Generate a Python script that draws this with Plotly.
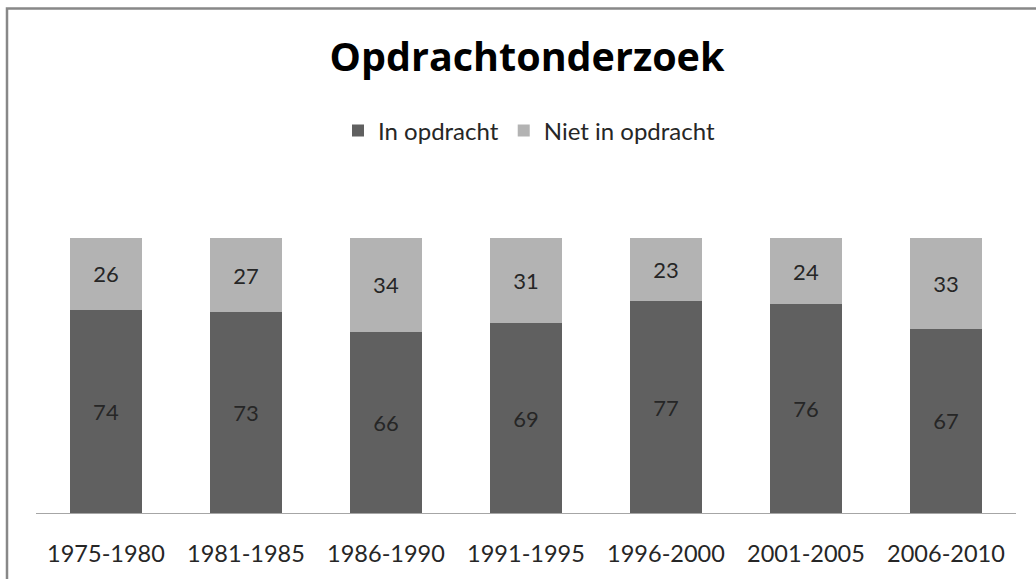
import plotly.graph_objects as go

categories = ["1975-1980", "1981-1985", "1986-1990", "1991-1995", "1996-2000", "2001-2005", "2006-2010"]
in_opdracht = [74, 73, 66, 69, 77, 76, 67]
niet_in_opdracht = [26, 27, 34, 31, 23, 24, 33]

W, H = 1036, 579
ML, MR, MT, MB = 36, 20, 238, 63
pw = W - ML - MR
ph = H - MT - MB

font_family = "Lato, 'Open Sans', sans-serif"
txt_color = "#262626"

fig = go.Figure()
fig.add_trace(go.Bar(
    x=categories, y=in_opdracht, name="In opdracht",
    marker=dict(color="#606060", line=dict(width=0)),
    text=in_opdracht, textposition="inside", insidetextanchor="middle",
    textfont=dict(size=22, color=txt_color, family=font_family),
))
fig.add_trace(go.Bar(
    x=categories, y=niet_in_opdracht, name="Niet in opdracht",
    marker=dict(color="#b3b3b3", line=dict(width=0)),
    text=niet_in_opdracht, textposition="inside", insidetextanchor="middle",
    textfont=dict(size=22, color=txt_color, family=font_family),
))

# chart border (top/left visible, right/bottom cut off)
fig.add_shape(type="rect", xref="paper", yref="paper",
              x0=(7 - ML) / pw, x1=(W + 20 - ML) / pw,
              y0=(H - MB - (H + 20)) / ph, y1=(H - MB - 6) / ph,
              line=dict(color="#888888", width=2.5), fillcolor="rgba(0,0,0,0)",
              layer="below")

fig.update_layout(
    width=W, height=H,
    margin=dict(l=ML, r=MR, t=MT, b=MB),
    barmode="stack",
    bargap=0.485,
    paper_bgcolor="white", plot_bgcolor="white",
    font=dict(family=font_family, color=txt_color, size=23),
    title=dict(text="<b>Opdrachtonderzoek</b>", x=527 / W, xanchor="center",
               y=1 - 57 / H, yanchor="middle", yref="container",
               font=dict(size=39.5, color="#000000", family="'Open Sans', sans-serif")),
    legend=dict(orientation="h", x=529 / W, xanchor="center", xref="container",
                y=1 - 131 / H, yanchor="middle", yref="container",
                font=dict(size=24, color=txt_color, family=font_family),
                itemwidth=30, traceorder="normal", bgcolor="rgba(0,0,0,0)"),
    xaxis=dict(showline=True, linecolor="#a6a6a6", linewidth=1, ticks="",
               showgrid=False, tickfont=dict(size=23.5, color=txt_color), ticklabelstandoff=20),
    yaxis=dict(range=[0, 100], visible=False, showgrid=False),
    uniformtext=dict(minsize=10, mode="show"),
)

fig.write_html("out.html", config={"displayModeBar": False},
               post_script="document.body.style.margin='0';document.body.style.overflow='hidden';")
